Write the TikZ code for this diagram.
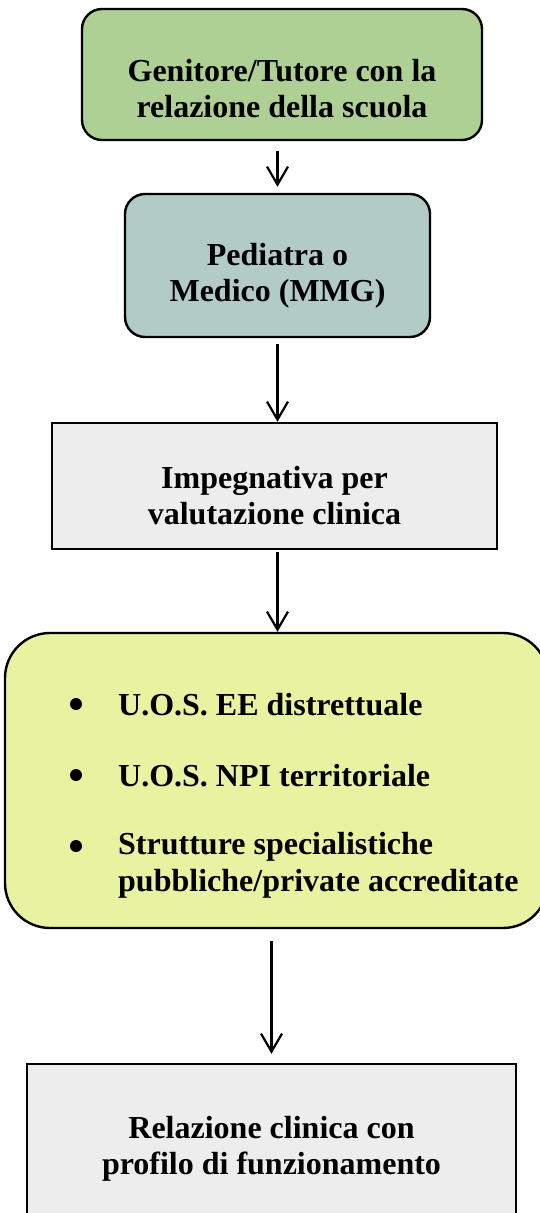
\documentclass[tikz,border=0pt]{standalone}
\usepackage{fontspec}
\setmainfont{Liberation Serif}
\usetikzlibrary{arrows.meta,calc}
\definecolor{cgreen}{RGB}{174,208,149}
\definecolor{cteal}{RGB}{179,203,199}
\definecolor{cgray}{RGB}{237,237,237}
\definecolor{cyellow}{RGB}{232,242,160}
\tikzset{
  box/.style={draw=black, line width=2.4pt, inner sep=0pt},
  rbox/.style={box, rounded corners=20pt},
  lbl/.style={align=center, font=\fontsize{32}{36}\selectfont\bfseries, inner sep=0pt},
  itm/.style={align=left, anchor=west, font=\fontsize{32}{37}\selectfont\bfseries, inner sep=0pt},
  bul/.style={circle, fill=black, inner sep=0pt, minimum size=12pt},
  conn/.style={line width=2.2pt, -{Straight Barb[length=18pt,width=21pt,line width=2.2pt]}}
}
\begin{document}
\begin{tikzpicture}[x=1pt,y=-1pt]
\useasboundingbox (0,0) rectangle (540,1213);
\clip (0,0) rectangle (540,1213);
% boxes
\node[rbox, fill=cgreen, minimum width=400pt, minimum height=131pt] (b1) at (282,74.5) {};
\node[rbox, fill=cteal, minimum width=305pt, minimum height=143pt] (b2) at (277.5,265.5) {};
\node[box, fill=cgray, minimum width=445pt, minimum height=126pt] (b3) at (274.5,486) {};
\node[box, rounded corners=45pt, fill=cyellow, minimum width=543pt, minimum height=295pt] (b4) at (276.5,780.5) {};
\node[box, fill=cgray, minimum width=489pt, minimum height=170pt] (b5) at (271.5,1149) {};
% texts
\node[lbl] (t1) at (282,88.5) {Genitore/Tutore con la\\relazione della scuola};
\node[lbl] (t2) at (277.5,275.5) {Pediatra o\\Medico (MMG)};
\node[lbl] (t3) at (274.5,496) {Impegnativa per\\valutazione clinica};
\node[lbl] (t5) at (271.5,1148.5) {Relazione clinica con\\profilo di funzionamento};
% bullet list
\node[bul] (p1) at (76,704) {};
\node[bul] (p2) at (76,775) {};
\node[bul] (p3) at (76,846) {};
\node[itm] (i1) at (118,705) {U.O.S. EE distrettuale};
\node[itm] (i2) at (118,776) {U.O.S. NPI territoriale};
\node[itm] (i3) at (118,865) {Strutture specialistiche\\pubbliche/private accreditate};
% connectors
\draw[conn, shorten <=10pt, shorten >=6pt] (b1.south -| b2.north) -- (b2.north);
\draw[conn, shorten <=6pt] (b2.south) -- (b3.north -| b2.south);
\draw[conn, shorten <=2pt] (b3.south -| b2.south) -- (b4.north -| b2.south);
\draw[conn, shorten <=12pt, shorten >=9pt] (b4.south -| b5.north) -- (b5.north);
\end{tikzpicture}
\end{document}
